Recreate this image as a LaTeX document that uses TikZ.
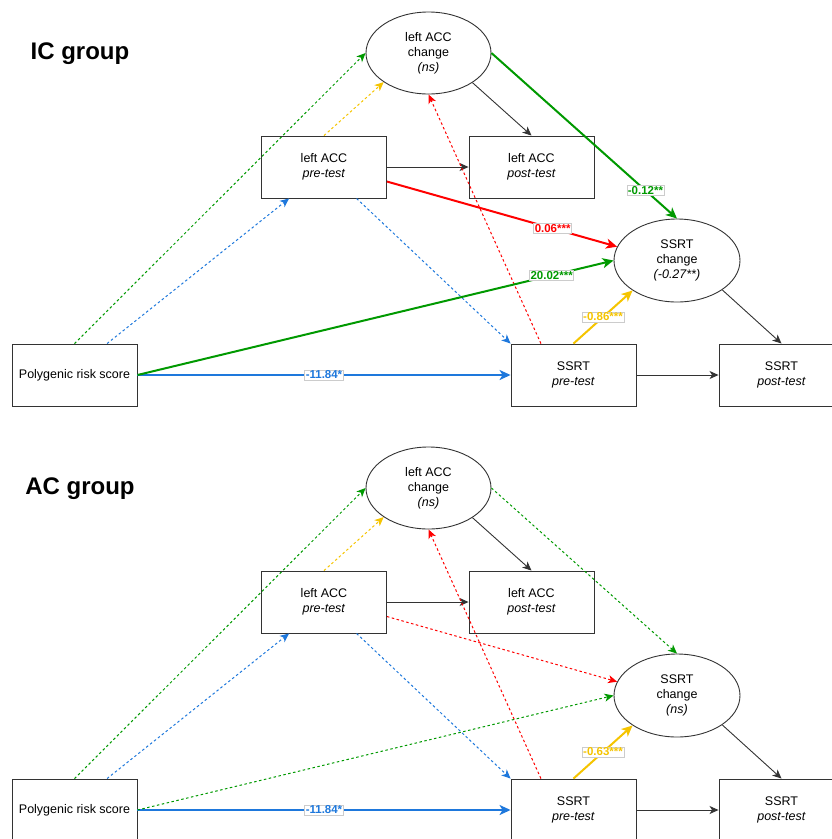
\documentclass[tikz,border=0pt]{standalone}
\usepackage{fontspec}
\setmainfont{Liberation Sans}
\usetikzlibrary{arrows.meta,shapes.geometric}
\definecolor{PathGreen}{HTML}{009900}
\definecolor{PathRed}{HTML}{FF0000}
\definecolor{PathBlue}{HTML}{1E78DC}
\definecolor{PathGold}{HTML}{F5C400}
\definecolor{Frame}{HTML}{333333}

\begin{document}
\begin{tikzpicture}[x=1pt,y=-1pt,
    box/.style={draw=Frame,line width=0.9pt,minimum width=125pt,minimum height=62pt,inner sep=0pt,align=center,font=\fontsize{12.5}{15}\selectfont},
    oval/.style={box,ellipse,minimum width=126pt,minimum height=82pt},
    link/.style={draw=Frame,line width=0.9pt,-{Stealth[length=9pt,width=8pt,inset=2.5pt]}},
    strong/.style={line width=2pt,-{Stealth[length=11pt,width=10pt,inset=3pt]}},
    faint/.style={line width=1pt,dash pattern=on 2.5pt off 2.5pt,-{Stealth[length=9pt,width=8pt,inset=2.5pt]}},
    coef/.style={fill=white,draw=black!20,line width=0.6pt,inner sep=1pt,font=\fontsize{11.5}{11.5}\selectfont\bfseries}]
      \path[use as bounding box] (0,0) rectangle (832,839);
      \clip (0,0) rectangle (832,839);
      \foreach \g/\dy/\ch in {IC/0/{(-0.27**)},AC/435/{(ns)}}
      {
      \node[font=\fontsize{24}{24}\selectfont\bfseries] (title\g) at (80,54+\dy) {\g{} group};
      \node[box] (prs\g) at (74.5,375+\dy) {Polygenic risk score};
      \node[box] (pre\g) at (324,167+\dy) {left ACC\\\textit{pre-test}};
      \node[box] (post\g) at (531.5,167+\dy) {left ACC\\\textit{post-test}};
      \node[oval,minimum width=125pt] (accch\g) at (428.5,53+\dy) {left ACC\\change\\\textit{(ns)}};
      \node[oval,minimum height=83pt] (ssrtch\g) at (677,260.5+\dy) {SSRT\\change\\\textit{\ch}};
      \node[box] (spre\g) at (573.5,375+\dy) {SSRT\\\textit{pre-test}};
      \node[box] (spost\g) at (781.5,375+\dy) {SSRT\\\textit{post-test}};
      \draw[faint,PathGreen] (prs\g.north) -- (accch\g.west);
      \draw[faint,PathBlue] (prs\g.44) -- (pre\g.222);
      \draw[faint,PathGold] (pre\g.north) -- (accch\g.213);
      \draw[link] (pre\g.east) -- (post\g.west);
      \draw[link] (accch\g.326) -- (post\g.north);
      \draw[faint,PathBlue] (pre\g.-44) -- (spre\g.north west);
      \draw[faint,PathRed] (spre\g.136) -- (accch\g.south);
      \draw[link] (spre\g.east) -- (spost\g.west);
      \draw[link] (ssrtch\g.-33) -- (spost\g.north);
      \draw[strong,PathBlue] (prs\g.east) -- node[coef,text=PathBlue] (base\g) {-11.84*} (spre\g.west);
      }
      \draw[strong,PathGreen] (accchIC.east) -- node[coef,text=PathGreen,pos=0.83] (accIC) {-0.12**} (ssrtchIC.north);
      \draw[strong,PathRed] (preIC.-13.6) -- node[coef,text=PathRed,pos=0.72] (levIC) {0.06***} (ssrtchIC.167);
      \draw[strong,PathGreen] (prsIC.east) -- node[coef,text=PathGreen,pos=0.87] (prsCoefIC) {20.02***} (ssrtchIC.west);
      \draw[strong,PathGold] (spreIC.north) -- node[coef,text=PathGold] (autoIC) {-0.86***} (ssrtchIC.214);
      \draw[faint,PathGreen] (accchAC.east) -- (ssrtchAC.north);
      \draw[faint,PathRed] (preAC.-13.6) -- (ssrtchAC.167);
      \draw[faint,PathGreen] (prsAC.east) -- (ssrtchAC.west);
      \draw[strong,PathGold] (spreAC.north) -- node[coef,text=PathGold] (autoAC) {-0.63***} (ssrtchAC.214);
    \end{tikzpicture}
\end{document}
